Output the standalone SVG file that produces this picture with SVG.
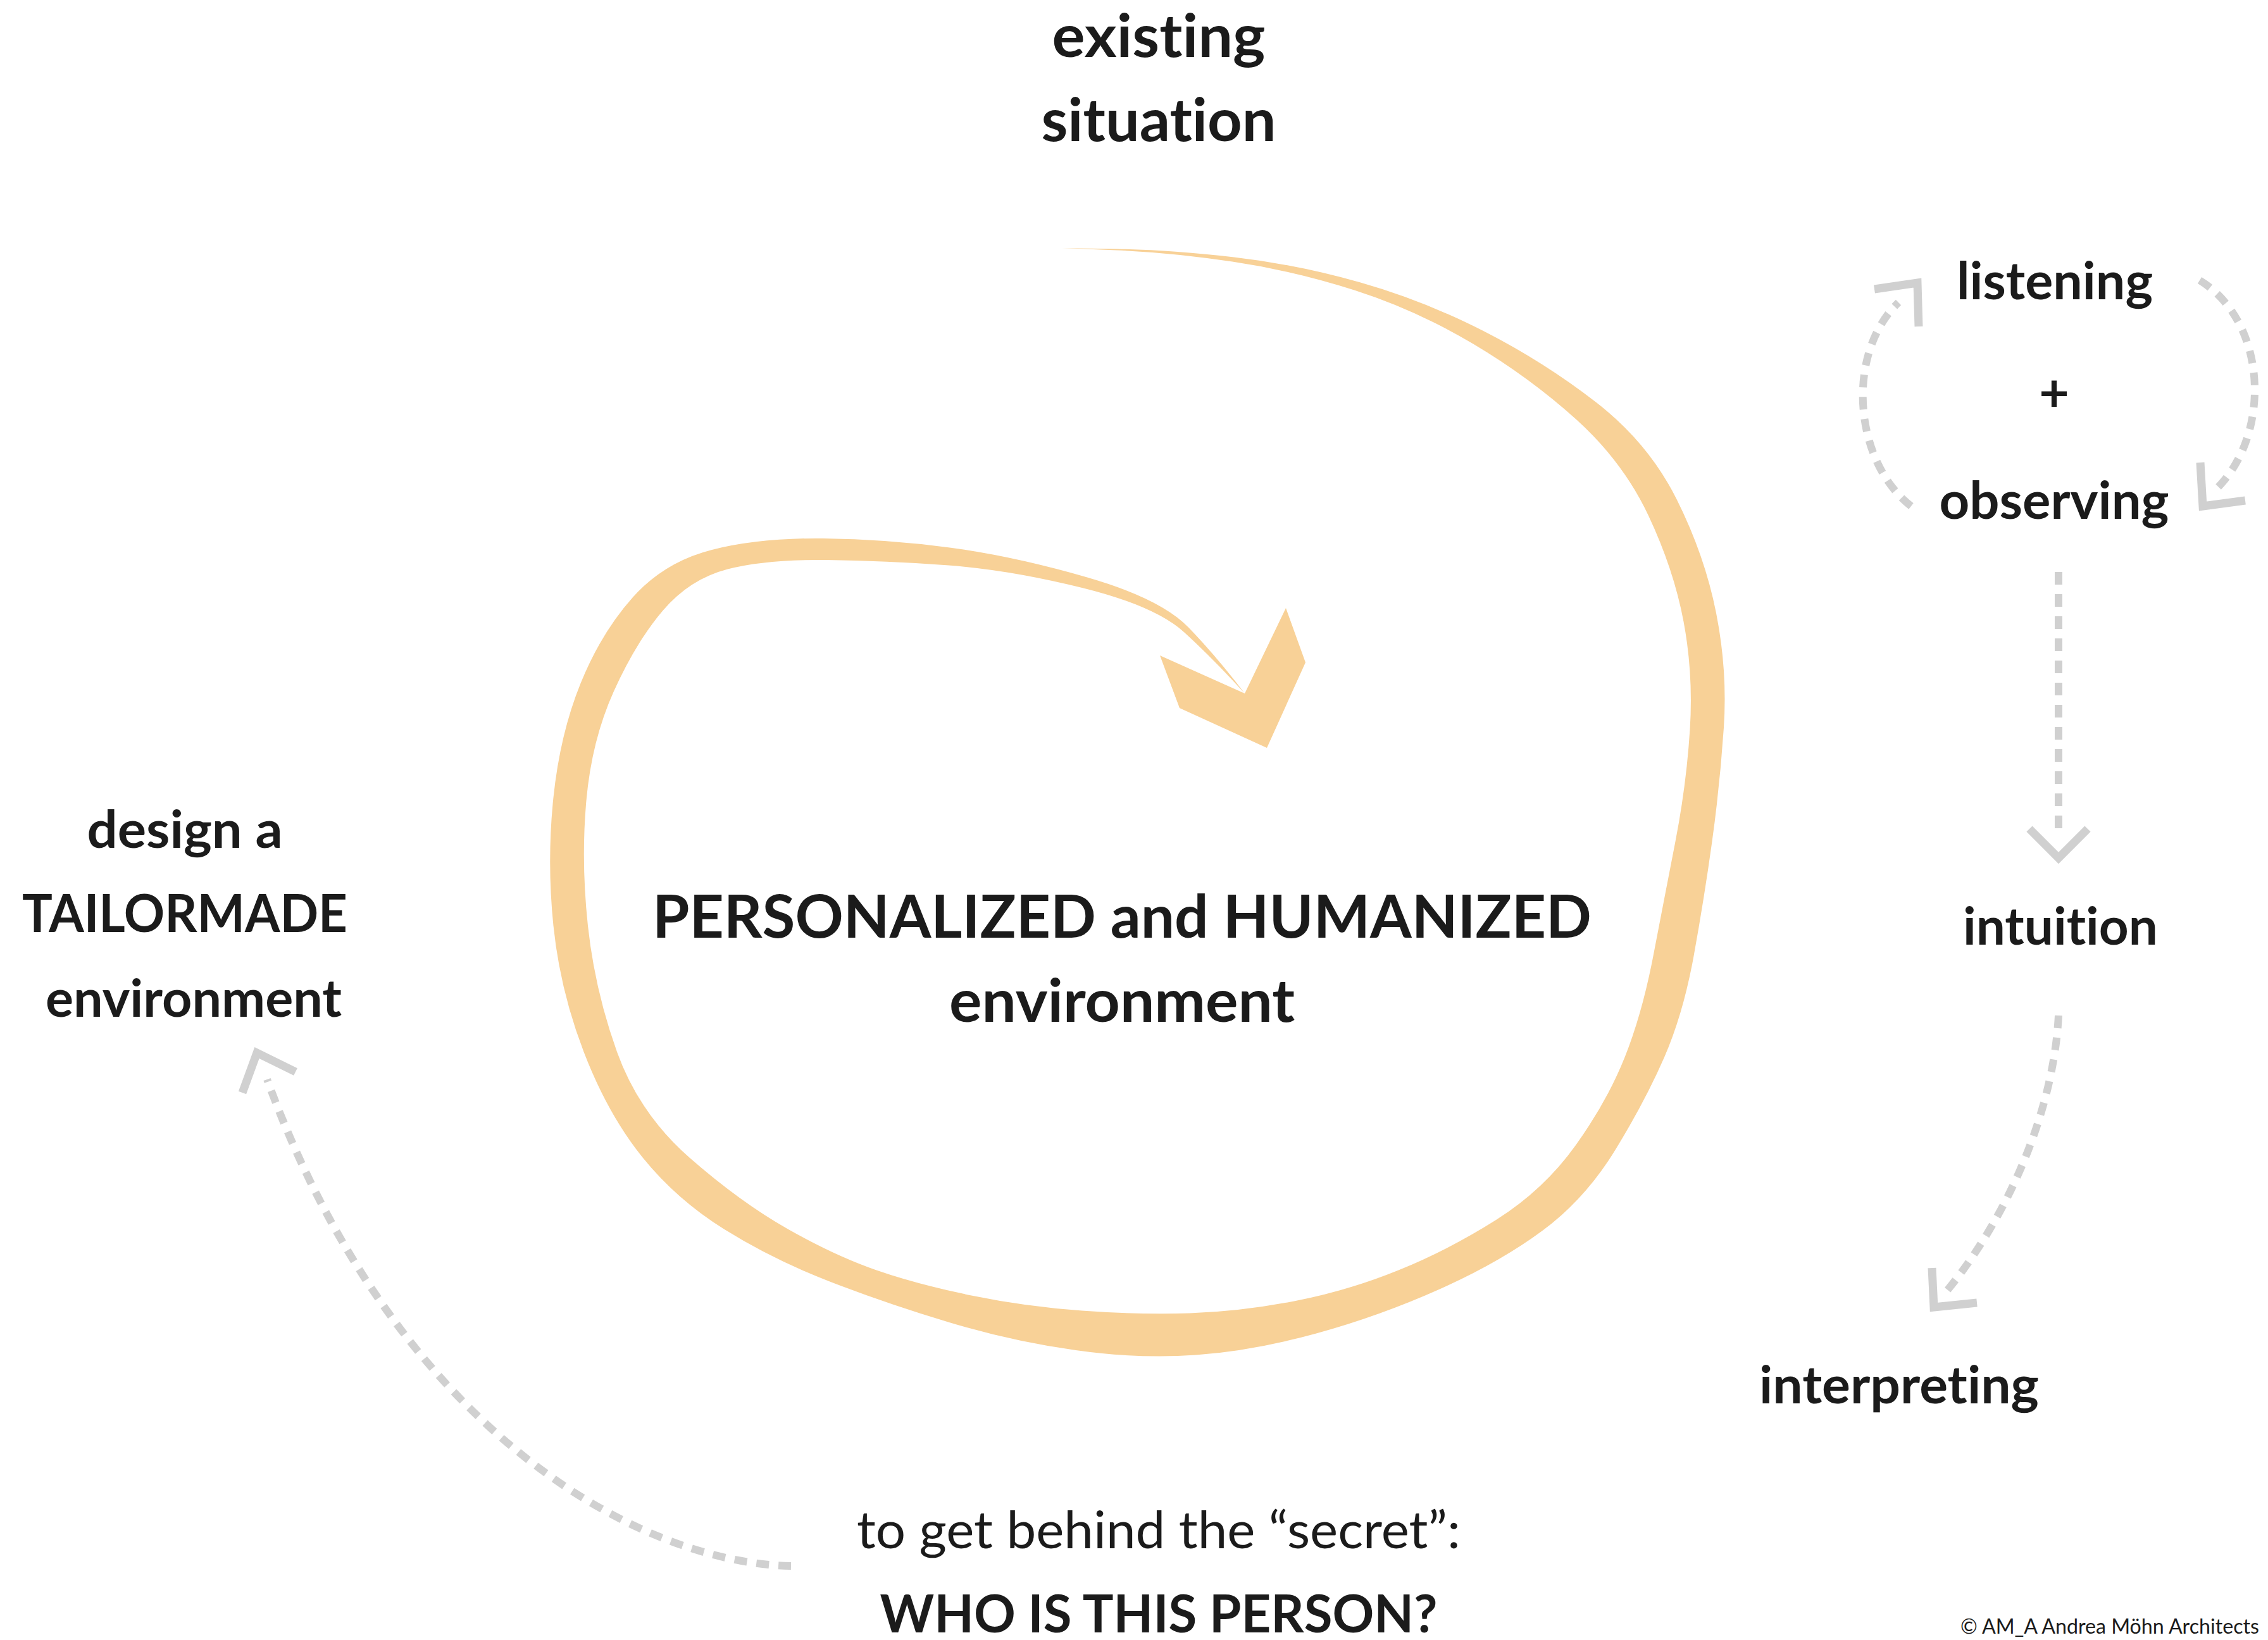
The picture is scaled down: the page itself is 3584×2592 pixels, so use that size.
<svg xmlns="http://www.w3.org/2000/svg" width="3584" height="2592" viewBox="0 0 3584 2592">
<style>
.lbl{font-family:Lato,"Open Sans","Liberation Sans",sans-serif;font-weight:700;fill:#1b1b1b;text-anchor:middle;font-variant-ligatures:none;font-feature-settings:"liga" 0,"dlig" 0}
.reg{font-weight:400}
.big{font-size:94px}
.mid{font-size:82px}
.dash{fill:none;stroke:#d0d0d0;stroke-width:12;stroke-dasharray:20 15}
.head{fill:none;stroke:#d0d0d0;stroke-width:13;stroke-linejoin:miter;stroke-linecap:butt}
.brush{fill:#f8d197}
</style>
<rect width="3584" height="2592" fill="#ffffff"/>
<g id="spiral">
<path class="brush" d="M1678,392 L1764,393.5 Q1850,395 1950,406.5 Q2050,418 2150,446.5 Q2250,475 2345,523.5 Q2440,572 2522.5,636 Q2605,700 2649.5,789 Q2694,878 2712,969 Q2730,1060 2724,1150 Q2718,1240 2705.5,1330 Q2693,1420 2676.5,1511 Q2660,1602 2630,1671 Q2600,1740 2552.5,1817.5 Q2505,1895 2437.5,1945 Q2370,1995 2275,2037.5 Q2180,2080 2080,2107.5 Q1980,2135 1890,2141.5 Q1800,2148 1700,2134 Q1600,2120 1500,2090 Q1400,2060 1310,2025 Q1220,1990 1144,1942.5 Q1068,1895 1014,1827.5 Q960,1760 922.5,1662.5 Q885,1565 874.5,1463 Q864,1361 874.5,1260.5 Q885,1160 917.5,1080 Q950,1000 1000,944 Q1050,888 1125,869 Q1200,850 1300,851 Q1400,852 1501,865.5 Q1602,879 1718,912.5 Q1834,946 1878,991.5 Q1922,1037 1967,1096 Q1917,1041 1871.5,999.5 Q1826,958 1712,929.5 Q1598,901 1499,893.5 Q1400,886 1305,885 Q1210,884 1150,899.5 Q1090,915 1047.5,965 Q1005,1015 970,1092.5 Q935,1170 926.5,1265.5 Q918,1361 929,1463 Q940,1565 975,1662.5 Q1010,1760 1090,1830 Q1170,1900 1245,1942.5 Q1320,1985 1385,2007.5 Q1450,2030 1535,2047.5 Q1620,2065 1710,2071.5 Q1800,2078 1880,2075.5 Q1960,2073 2045,2056.5 Q2130,2040 2210,2007.5 Q2290,1975 2365,1927.5 Q2440,1880 2490,1810 Q2540,1740 2567.5,1671 Q2595,1602 2612.5,1511 Q2630,1420 2647.5,1330 Q2665,1240 2670.5,1152.5 Q2676,1065 2660.5,982.5 Q2645,900 2605,815 Q2565,730 2491.5,663.5 Q2418,597 2328,543.5 Q2238,490 2141.5,459 Q2045,428 1947.5,413.5 Q1850,399 1764,395.5 Z"/>
<polygon class="brush" points="1833,1036 1967,1096 2032,961 2063,1047 2002,1182 1864,1119"/>
</g>
<g id="connectors">
<path class="dash" d="M3020,800 C2930,730 2915,560 3000,478"/>
<polyline class="head" points="2962,457 3030,447 3032,516"/>
<path class="dash" d="M3476,443 C3585,510 3590,690 3500,775"/>
<polyline class="head" points="3477,731 3481,800 3548,791"/>
<path class="dash" d="M3253,904 L3253,1316"/>
<polyline class="head" points="3207,1310 3253,1356 3299,1310"/>
<path class="dash" d="M3253,1605 C3245,1760 3170,1930 3070,2048"/>
<polyline class="head" points="3053,2004 3056,2066 3124,2059"/>
<path class="dash" d="M1250,2475 C1000,2470 620,2250 422,1706"/>
<polyline class="head" points="383,1727 406,1664 467,1694"/>
</g>
<g id="node-existing">
<text class="lbl big" x="1831" y="90" textLength="337" lengthAdjust="spacingAndGlyphs">existing</text>
<text class="lbl big" x="1831" y="223" textLength="371" lengthAdjust="spacingAndGlyphs">situation</text>
</g>
<g id="node-listening">
<text class="lbl mid" x="3247" y="473" textLength="310" lengthAdjust="spacingAndGlyphs">listening</text>
<text class="lbl mid" x="3246" y="650">+</text>
<text class="lbl mid" x="3246" y="820" textLength="363" lengthAdjust="spacingAndGlyphs">observing</text>
</g>
<g id="node-intuition">
<text class="lbl mid" x="3256" y="1493" textLength="308" lengthAdjust="spacingAndGlyphs">intuition</text>
</g>
<g id="node-interpreting">
<text class="lbl mid" x="3001" y="2218" textLength="442" lengthAdjust="spacingAndGlyphs">interpreting</text>
</g>
<g id="node-tailormade">
<text class="lbl mid" x="292" y="1340" textLength="309" lengthAdjust="spacingAndGlyphs">design a</text>
<text class="lbl mid" x="292" y="1473" textLength="514" lengthAdjust="spacingAndGlyphs">TAILORMADE</text>
<text class="lbl mid" x="306" y="1607" textLength="468" lengthAdjust="spacingAndGlyphs">environment</text>
</g>
<g id="node-center">
<text class="lbl big" x="1773" y="1482" textLength="1484" lengthAdjust="spacingAndGlyphs">PERSONALIZED and HUMANIZED</text>
<text class="lbl big" x="1773" y="1615" textLength="546" lengthAdjust="spacingAndGlyphs">environment</text>
</g>
<g id="node-person">
<text class="lbl mid reg" x="1831" y="2447" textLength="954" lengthAdjust="spacingAndGlyphs">to get behind the “secret”:</text>
<text class="lbl mid" x="1831" y="2580" textLength="881" lengthAdjust="spacingAndGlyphs">WHO IS THIS PERSON?</text>
</g>
<g id="copyright">
<text class="lbl reg" x="3570" y="2582" style="font-size:33px;text-anchor:end" textLength="472" lengthAdjust="spacingAndGlyphs">© AM_A Andrea Möhn Architects</text>
</g>
</svg>
